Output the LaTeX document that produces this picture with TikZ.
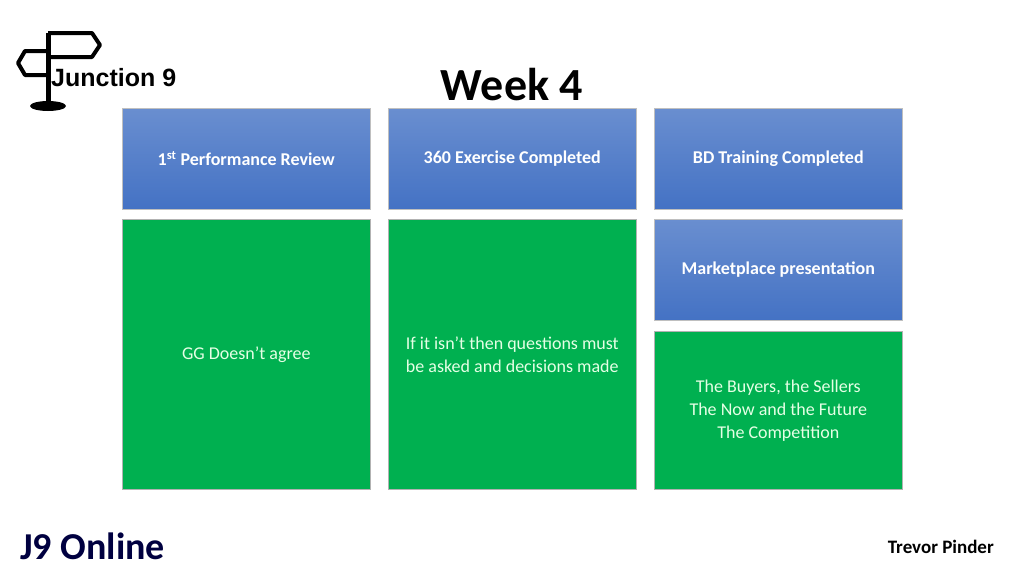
\documentclass[tikz,border=0pt]{standalone}
\usepackage{fontspec}
\setmainfont{Carlito}
\newfontfamily\arialf{Liberation Sans}
\begin{document}
\begin{tikzpicture}[x=1pt,y=-1pt,
 bluebox/.style={draw=black!25,line width=0.6pt,top color=blueA!80!white,bottom color=blueA,minimum width=248pt,minimum height=101pt,inner sep=0pt,anchor=north west,font=\bfseries\fontsize{18}{21}\selectfont,text=white},
 greenbox/.style={draw=black!30,line width=0.6pt,fill=greenA,anchor=north west,inner sep=0pt,minimum width=248pt,font=\fontsize{18}{23}\selectfont,text=white!90!green,align=center},
 sign/.style={draw=black,line width=4pt,line join=round}]
\definecolor{blueA}{HTML}{4472C4}
\definecolor{greenA}{HTML}{00B050}
\useasboundingbox (0,0) rectangle (1024,576);
\fill[white] (0,0) rectangle (1024,576);
% logo
\draw[sign] (48,33) -- (92,33) -- (100,45) -- (92,57) -- (48,57);
\draw[sign] (48,51) -- (25,51) -- (18,63) -- (25,75) -- (48,75);
\draw[black,line width=5pt] (48,33) -- (48,104);
\fill[black] (48,106) ellipse (18pt and 5pt);
\node[font=\arialf\bfseries\fontsize{25}{25}\selectfont,anchor=west,inner sep=0pt] (logo) at (51,78) {Junction 9};
\node[font=\bfseries\fontsize{46}{46}\selectfont] (title) at (512,85) {Week 4};
\node[bluebox] (b1) at (122,108) {1\textsuperscript{st} Performance Review};
\node[bluebox] (b2) at (388,108) {360 Exercise Completed};
\node[bluebox] (b3) at (654,108) {BD Training Completed};
\node[greenbox,minimum height=270pt] (g1) at (122,219) {GG Doesn’t agree};
\node[greenbox,minimum height=270pt] (g2) at (388,219) {If it isn’t then questions must\\be asked and decisions made};
\node[bluebox] (b4) at (654,219) {Marketplace presentation};
\node[greenbox,minimum height=158pt] (g3) at (654,331) {The Buyers, the Sellers\\The Now and the Future\\The Competition};
\node[font=\bfseries\fontsize{38}{38}\selectfont,text=blue!25!black,anchor=west,inner sep=0pt] (j9) at (20,546) {J9 Online};
\node[font=\bfseries\fontsize{19}{19}\selectfont,anchor=east,inner sep=0pt] (tp) at (994,547) {Trevor Pinder};
\end{tikzpicture}
\end{document}
